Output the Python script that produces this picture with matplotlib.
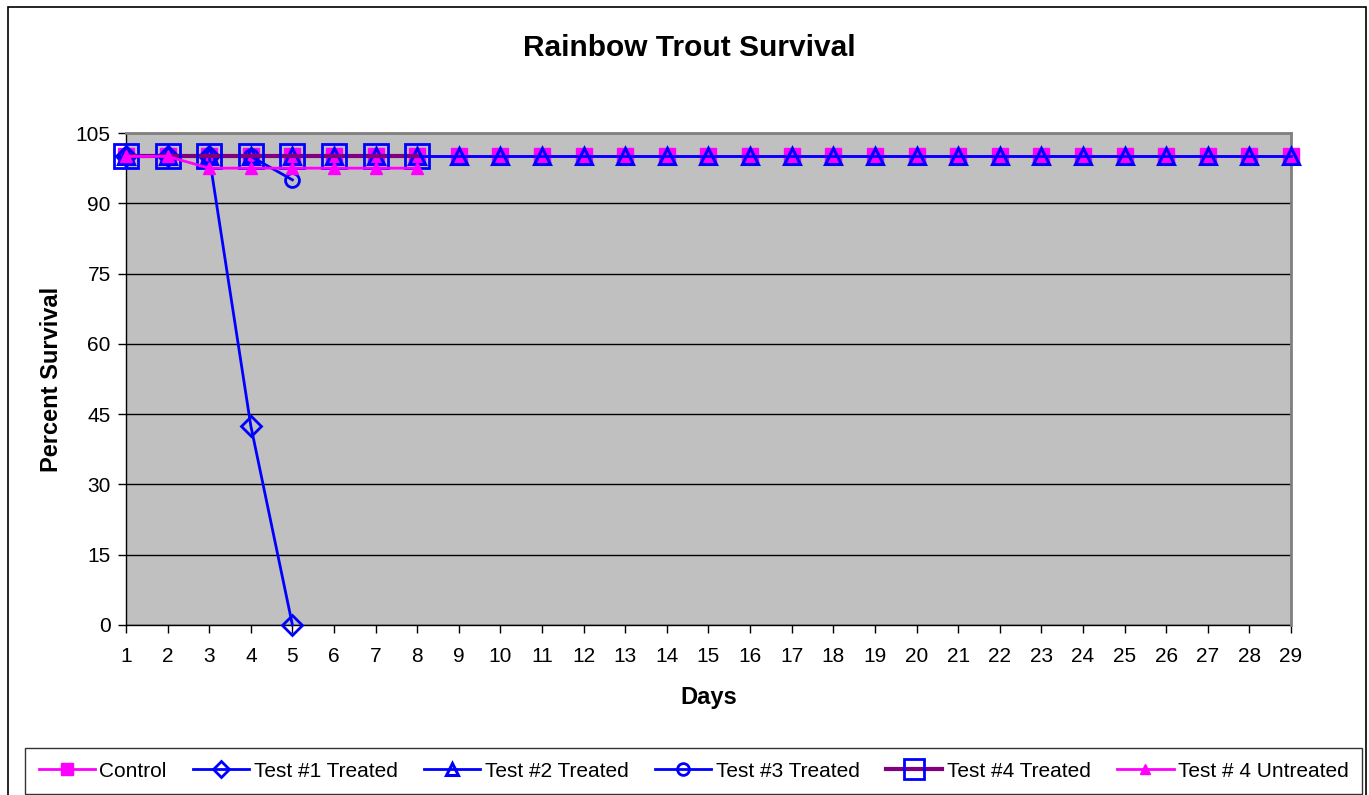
import matplotlib.pyplot as plt
from matplotlib.patches import Rectangle

plt.rcParams['font.family'] = ['Liberation Sans', 'DejaVu Sans']

days = list(range(1, 30))
control = [100] * 29
test1_days = [1, 2, 3, 4, 5]
test1 = [100, 100, 100, 42.5, 0]
test2 = [100] * 29
test3_days = [1, 2, 3, 4, 5]
test3 = [100, 100, 100, 100, 95]
test4_days = [1, 2, 3, 4, 5, 6, 7, 8]
test4 = [100, 100, 100, 100, 100, 100, 100, 100]
test4u = [100, 100, 97.5, 97.5, 97.5, 97.5, 97.5, 97.5]
yticks = [0, 15, 30, 45, 60, 75, 90, 105]

fig = plt.figure(figsize=(13.69, 7.95), dpi=100)
ax = fig.add_axes([126 / 1369, 1 - 625 / 795, (1291 - 126) / 1369, (625 - 133) / 795])
ax.set_facecolor('#C0C0C0')

ax.plot(days, control, color='#FF00FF', lw=2, marker='s', ms=11,
        mfc='#FF00FF', mec='#FF00FF', label='Control', clip_on=False, zorder=3)
ax.plot(test1_days, test1, color='#0000FF', lw=2, marker='D', ms=10,
        mfc='none', mec='#0000FF', mew=2, label='Test #1 Treated', clip_on=False, zorder=4)
ax.plot(days, test2, color='#0000FF', lw=2, marker='^', ms=11,
        mfc='none', mec='#0000FF', mew=2.2, label='Test #2 Treated', clip_on=False, zorder=5)
ax.plot(test3_days, test3, color='#0000FF', lw=2, marker='o', ms=10,
        mfc='none', mec='#0000FF', mew=2, label='Test #3 Treated', clip_on=False, zorder=6)
ax.plot(test4_days, test4, color='#800080', lw=3, marker='s', ms=17,
        mfc='none', mec='#0000FF', mew=2, label='Test #4 Treated', clip_on=False, zorder=7)
ax.plot(test4_days, test4u, color='#FF00FF', lw=2, marker='^', ms=8,
        mfc='#FF00FF', mec='#FF00FF', label='Test # 4 Untreated', clip_on=False, zorder=8)

ax.set_xlim(1, 29)
ax.set_ylim(0, 105)
ax.set_xticks(days)
ax.set_yticks(yticks)
ax.tick_params(axis='both', direction='out', length=6, width=1, labelsize=15)
ax.tick_params(axis='x', pad=10)
ax.tick_params(axis='y', pad=5)
ax.grid(axis='y', color='black', lw=1)
ax.set_axisbelow(True)
for s in ['top', 'right']:
    ax.spines[s].set_color('#808080')
    ax.spines[s].set_linewidth(2)
for s in ['left', 'bottom']:
    ax.spines[s].set_color('black')
    ax.spines[s].set_linewidth(1)
    ax.spines[s].set_zorder(2)

ax.set_xlabel('Days', fontsize=17, fontweight='bold', labelpad=14)
ax.set_ylabel('Percent Survival', fontsize=17, fontweight='bold', labelpad=9)
fig.text(689 / 1369, 1 - 48 / 795, 'Rainbow Trout Survival', ha='center', va='center',
         fontsize=21.5, fontweight='bold')

leg = fig.legend(loc='upper left', bbox_to_anchor=(25 / 1369, 1 - 748 / 795, 1337 / 1369, 0.0),
                 mode='expand', ncol=6, fontsize=15, frameon=True, fancybox=False,
                 handlelength=2.7, handletextpad=0.2, columnspacing=0.8, borderaxespad=0,
                 borderpad=0.65, markerscale=0.85)
leg.get_frame().set_edgecolor('black')
leg.get_frame().set_linewidth(1)

fig.patches.append(Rectangle((8 / 1369, -0.01), 1358 / 1369, 1 - 7 / 795 + 0.01,
                             transform=fig.transFigure, fill=False, ec='black', lw=1.2))

fig.savefig('out.png', dpi=100)
